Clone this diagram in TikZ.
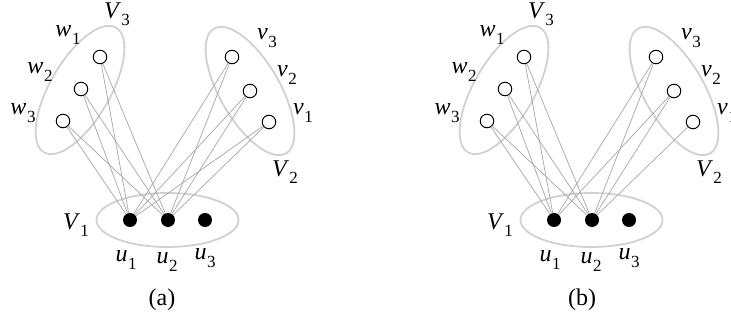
\documentclass[tikz,border=0pt]{standalone}
\usepackage{fontspec}
\setmainfont{Liberation Serif}
\newcommand{\lbl}[2]{\textit{#1}\kern0.5pt\raisebox{-0.3em}{\fontsize{17}{19}\selectfont #2}}
\begin{document}
\begin{tikzpicture}[x=1pt,y=-1pt,
  setline/.style={draw=black!18, line width=1.8pt},
  edge/.style={draw=black!35, line width=0.7pt},
  openv/.style={circle, draw=black, fill=white, line width=1pt, minimum size=13.5pt, inner sep=0pt},
  fullv/.style={circle, fill=black, minimum size=14pt, inner sep=0pt},
  lab/.style={inner sep=0pt, font=\fontsize{24}{28}\selectfont}]
\useasboundingbox (0,0) rectangle (731,320);
\foreach \p/\dx in {a/0,b/424}{
\begin{scope}[shift={(\dx,0)}, name prefix=\p-]
  \draw[setline] (167.5,220) ellipse [x radius=71, y radius=27];
  \draw[setline, rotate around={60:(80,90)}] (80,90) ellipse [x radius=72, y radius=30];
  \draw[setline, rotate around={-60:(250,91)}] (250,91) ellipse [x radius=72, y radius=30];
  \node[openv] (w1) at (100,57) {};
  \node[openv] (w2) at (81,89) {};
  \node[openv] (w3) at (63,121) {};
  \node[openv] (v3) at (232,57) {};
  \node[openv] (v2) at (250,91) {};
  \node[openv] (v1) at (269,122) {};
  \node[fullv] (u1) at (130,220) {};
  \node[fullv] (u2) at (168,220) {};
  \node[fullv] (u3) at (205,220) {};
  \foreach \s in {w1,w2,w3,v3,v2}{
    \draw[edge] (\s) -- (u1);
    \draw[edge] (\s) -- (u2);
  }
  \draw[edge] (v1) -- (u2);
  \node[lab] (lV3) at (117,14) {\lbl{V}{3}};
  \node[lab] (lw1) at (68,35) {\lbl{w}{1}};
  \node[lab] (lw2) at (40,72) {\lbl{w}{2}};
  \node[lab] (lw3) at (23,113) {\lbl{w}{3}};
  \node[lab] (lv3) at (267,38) {\lbl{v}{3}};
  \node[lab] (lv2) at (287,75) {\lbl{v}{2}};
  \node[lab] (lv1) at (303,113) {\lbl{v}{1}};
  \node[lab] (lV2) at (285,172) {\lbl{V}{2}};
  \node[lab] (lV1) at (76,225) {\lbl{V}{1}};
  \node[lab] (lu1) at (126,260) {\lbl{u}{1}};
  \node[lab] (lu2) at (167,262) {\lbl{u}{2}};
  \node[lab] (lu3) at (205,258) {\lbl{u}{3}};
\end{scope}}
\draw[edge] (a-v1) -- (a-u1);
\node[lab] (capa) at (162,300) {(a)};
\node[lab] (capb) at (582,300) {(b)};
\end{tikzpicture}
\end{document}
